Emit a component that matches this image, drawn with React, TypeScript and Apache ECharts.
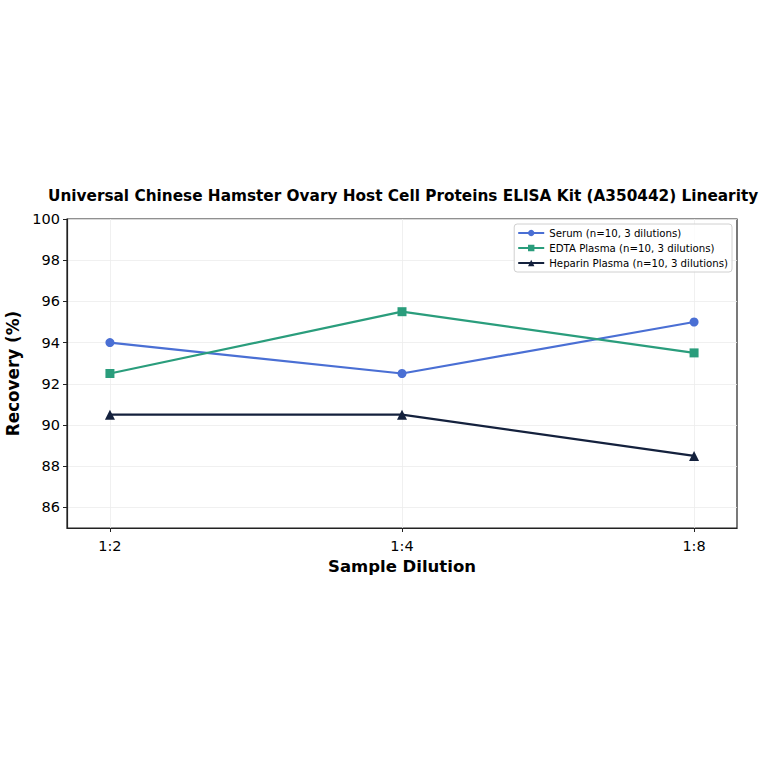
import * as echarts from "echarts";
import { useEffect, useRef } from "react";

const dilutions = ["1:2", "1:4", "1:8"];
const serum = [94.0, 92.5, 95.0];
const edta = [92.5, 95.5, 93.5];
const heparin = [90.5, 90.5, 88.5];
const yTicks = [86, 88, 90, 92, 94, 96, 98, 100];

const font = "DejaVu Sans";

export default function App() {
  const chartRef = useRef<HTMLDivElement>(null);

  useEffect(() => {
    if (!chartRef.current) return;
    const chart = echarts.init(chartRef.current, null, { renderer: "svg" });

    const toPoints = (vals: number[]) => vals.map((v, i) => [i, v]);
    const xIdx = dilutions.map((_, i) => i);

    chart.setOption({
      animation: false,
      backgroundColor: "#fff",
      textStyle: { fontFamily: font },
      title: {
        text: "Universal Chinese Hamster Ovary Host Cell Proteins ELISA Kit (A350442) Linearity",
        left: 48,
        top: 188,
        padding: 0,
        textStyle: { fontFamily: font, fontSize: 15.3, fontWeight: "bold", color: "#000" }
      },
      grid: {
        left: 67,
        right: 27,
        top: 219,
        bottom: 236,
        outerBoundsMode: "none",
        show: true,
        borderColor: "#222",
        borderWidth: 1.2,
        backgroundColor: "transparent"
      },
      legend: {
        orient: "vertical",
        right: 32,
        top: 224,
        itemWidth: 26,
        itemHeight: 8,
        itemGap: 5,
        padding: [4, 4, 4, 3],
        borderColor: "#d0d0d0",
        borderWidth: 1,
        borderRadius: 3,
        backgroundColor: "rgba(255,255,255,0.8)",
        textStyle: { fontFamily: font, fontSize: 10.2, color: "#000" }
      },
      xAxis: {
        type: "value",
        min: -0.147,
        max: 2.147,
        name: "Sample Dilution",
        nameLocation: "middle",
        nameGap: 30,
        nameTextStyle: { fontFamily: font, fontSize: 16.5, fontWeight: "bold", color: "#000" },
        axisLine: { show: true, onZero: false, lineStyle: { color: "#222", width: 1.2 } },
        axisTick: { show: true, customValues: xIdx, length: 4, lineStyle: { color: "#222" } },
        axisLabel: {
          customValues: xIdx,
          formatter: (v: number) => dilutions[Math.round(v)] ?? "",
          fontFamily: font,
          fontSize: 14.5,
          color: "#000",
          margin: 10
        },
        splitLine: { show: true, lineStyle: { color: "#ececec", width: 0.8 } }
      },
      yAxis: {
        type: "value",
        min: 85,
        max: 100,
        name: "Recovery (%)",
        nameLocation: "middle",
        nameGap: 46,
        nameTextStyle: { fontFamily: font, fontSize: 16.8, fontWeight: "bold", color: "#000" },
        axisLine: { show: true, onZero: false, lineStyle: { color: "#222", width: 1.2 } },
        axisTick: { show: true, customValues: yTicks, length: 4, lineStyle: { color: "#222" } },
        axisLabel: {
          customValues: yTicks,
          fontFamily: font,
          fontSize: 14.5,
          color: "#000",
          margin: 7
        },
        splitLine: { show: true, lineStyle: { color: "#ececec", width: 0.8 } }
      },
      series: [
        {
          name: "Serum (n=10, 3 dilutions)",
          type: "line",
          data: toPoints(serum),
          symbol: "circle",
          symbolSize: 9,
          itemStyle: { color: "#4a6fd4" },
          lineStyle: { width: 2.2, color: "#4a6fd4" }
        },
        {
          name: "EDTA Plasma (n=10, 3 dilutions)",
          type: "line",
          data: toPoints(edta),
          symbol: "rect",
          symbolSize: 9,
          itemStyle: { color: "#2a9d7c" },
          lineStyle: { width: 2.2, color: "#2a9d7c" }
        },
        {
          name: "Heparin Plasma (n=10, 3 dilutions)",
          type: "line",
          data: toPoints(heparin),
          symbol: "triangle",
          symbolSize: 10,
          itemStyle: { color: "#14213d" },
          lineStyle: { width: 2.2, color: "#14213d" }
        }
      ]
    });

    return () => {
      chart.dispose();
    };
  }, []);

  return (
    <div
      ref={chartRef}
      style={{ position: "absolute", left: 0, top: 0, width: 764, height: 764 }}
    />
  );
}
